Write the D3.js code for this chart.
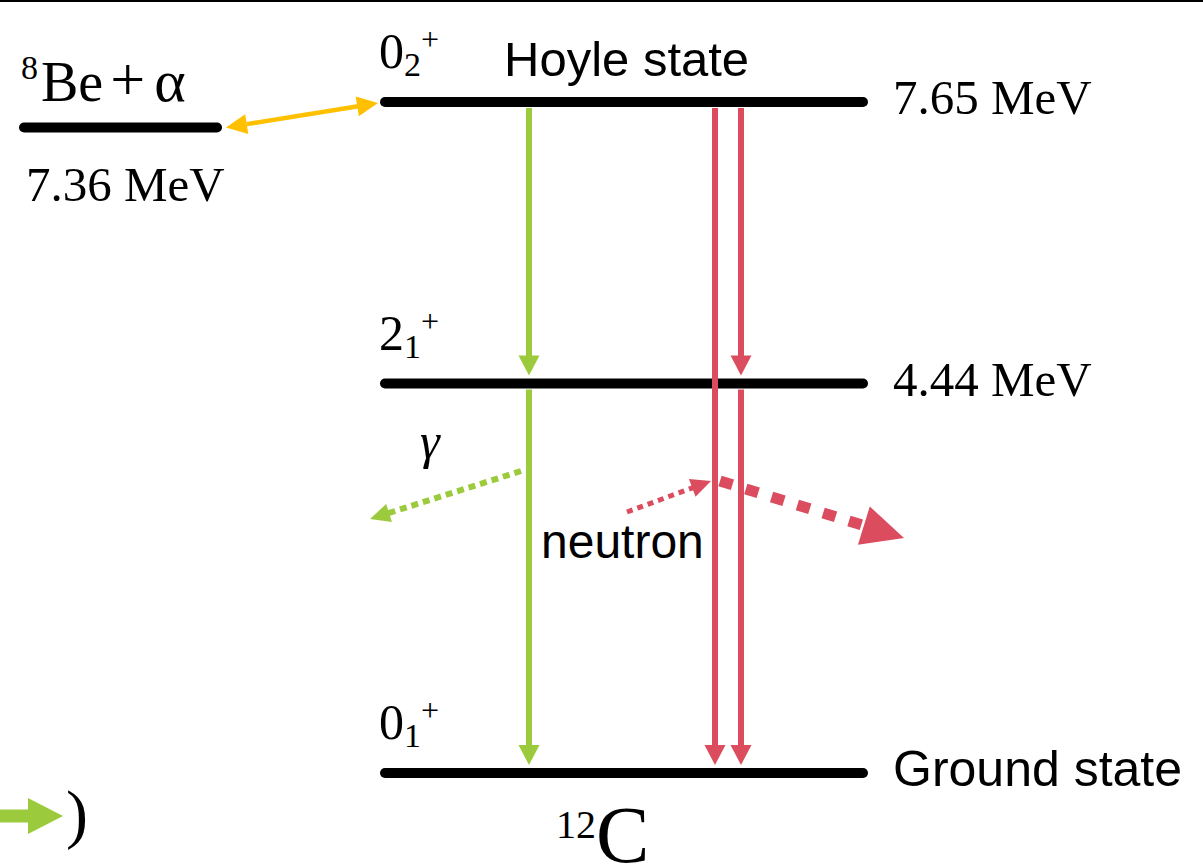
<!DOCTYPE html>
<html>
<head>
<meta charset="utf-8">
<script src="https://cdn.jsdelivr.net/npm/d3@7"></script>
<style>
  html, body { margin: 0; padding: 0; background: #fff; }
  svg { display: block; }
  .serif { font-family: "Liberation Serif", "Times New Roman", serif; }
  .sans { font-family: "Liberation Sans", Arial, sans-serif; }
</style>
</head>
<body>
<div id="chart"></div>
<script>
(function () {

    // level energies of 12C (MeV) and the 8Be + alpha threshold
    var levelKeys = ['hoyle', 'first', 'ground'];
    var levelEnergies = [7.65, 4.44, 0.0];
    var levelEnergyLabels = ['7.65 MeV', '4.44 MeV', 'Ground state'];
    var levelSpins = ['0', '2', '0'];
    var levelSpinIdx = ['2', '1', '1'];
    var thresholdEnergy = 7.36;
    var thresholdLabel = '7.36 MeV';

    // decay paths between levels
    var transFrom = [7.65, 4.44, 7.65, 7.65, 4.44];
    var transTo = [4.44, 0.0, 0.0, 4.44, 0.0];
    var transKind = ['gamma', 'gamma', 'neutron', 'neutron', 'neutron'];
    var transColumn = [0, 0, 1, 2, 2];

    var width = 1203;
    var height = 867;
    var colors = {gamma: '#9bcb3c', neutron: '#dc4c5f', alpha: '#ffc000'};

    var svg = d3.select('#chart').append('svg')
        .attr('width', width)
        .attr('height', height);

    /**
     * energy -> vertical position
     */
    var y = d3.scaleLinear().domain([0, 7.65]).range([773, 102]);
    var columnX = [529, 715, 741];

    /**
     * draws a straight arrow ending in a filled triangle
     */
    function arrow(x1, y1, x2, y2, o) {
        var dx = x2 - x1, dy = y2 - y1;
        var len = Math.sqrt(dx * dx + dy * dy);
        var ux = dx / len, uy = dy / len;
        var px = -uy, py = ux;
        var hl = o.headLen, hw = o.headW / 2;
        var sx = x1, sy = y1;
        if (o.both) {
            sx = x1 + ux * hl;
            sy = y1 + uy * hl;
            svg.append('polygon')
                .attr('points', [[x1, y1],
                    [x1 + ux * hl + px * hw, y1 + uy * hl + py * hw],
                    [x1 + ux * hl - px * hw, y1 + uy * hl - py * hw]].join(' '))
                .attr('fill', o.color);
        }
        var bx = x2 - ux * hl, by = y2 - uy * hl;
        svg.append('line')
            .attr('x1', sx).attr('y1', sy)
            .attr('x2', bx + ux * 1).attr('y2', by + uy * 1)
            .attr('stroke', o.color)
            .attr('stroke-width', o.width)
            .attr('stroke-dasharray', o.dash || null);
        svg.append('polygon')
            .attr('points', [[x2, y2],
                [bx + px * hw, by + py * hw],
                [bx - px * hw, by - py * hw]].join(' '))
            .attr('fill', o.color);
    }

    // top frame line
    svg.append('rect')
        .attr('x', 0).attr('y', 0)
        .attr('width', width).attr('height', 2)
        .attr('fill', '#000');

    /**
     * vertical decay arrows
     */
    transFrom.forEach(function (from, i) {
        var x = columnX[transColumn[i]];
        var y1 = y(from) + 6;
        var y2 = y(transTo[i]) - 8;
        arrow(x, y1, x, y2, {
            color: colors[transKind[i]], width: 6, headLen: 20, headW: 21
        });
    });

    /**
     * energy levels
     */
    svg.selectAll('.level')
        .data(levelEnergies)
        .enter().append('line')
        .attr('class', 'level')
        .attr('x1', 385).attr('x2', 863)
        .attr('y1', function (d) { return y(d); })
        .attr('y2', function (d) { return y(d); })
        .attr('stroke', '#000')
        .attr('stroke-width', 10)
        .attr('stroke-linecap', 'round');

    // red direct line passes over the 4.44 level
    svg.append('line')
        .attr('x1', columnX[1]).attr('x2', columnX[1])
        .attr('y1', y(4.44) - 6).attr('y2', y(4.44) + 6)
        .attr('stroke', colors.neutron).attr('stroke-width', 6);

    svg.append('line')
        .attr('x1', 24).attr('x2', 217)
        .attr('y1', y(thresholdEnergy)).attr('y2', y(thresholdEnergy))
        .attr('stroke', '#000')
        .attr('stroke-width', 10)
        .attr('stroke-linecap', 'round');

    // alpha exchange between threshold and Hoyle state
    arrow(226, y(thresholdEnergy), 378, y(7.65) + 1, {
        color: colors.alpha, width: 4.5, headLen: 21, headW: 20, both: true
    });

    /**
     * level labels
     */
    svg.selectAll('.elabel')
        .data(levelEnergies)
        .enter().append('text')
        .attr('class', function (d, i) { return 'elabel ' + (i === 2 ? 'sans' : 'serif'); })
        .attr('x', 893)
        .attr('y', function (d, i) { return y(d) + (i === 2 ? 13 : 12); })
        .attr('font-size', function (d, i) { return i === 2 ? 50 : 49; })
        .text(function (d, i) { return levelEnergyLabels[i]; });

    var spin = svg.selectAll('.spin')
        .data(levelEnergies)
        .enter().append('text')
        .attr('class', 'spin serif')
        .attr('x', 379)
        .attr('y', function (d) { return y(d) - 34; })
        .attr('font-size', 50);
    spin.append('tspan').text(function (d, i) { return levelSpins[i]; });
    spin.append('tspan')
        .attr('font-size', 34).attr('dy', 8)
        .text(function (d, i) { return levelSpinIdx[i]; });
    spin.append('tspan')
        .attr('font-size', 32).attr('dy', -26)
        .text('+');

    svg.append('text')
        .attr('class', 'sans')
        .attr('x', 504).attr('y', 76)
        .attr('font-size', 49)
        .text('Hoyle state');

    svg.append('text')
        .attr('class', 'serif')
        .attr('x', 26).attr('y', 201)
        .attr('font-size', 49)
        .text(thresholdLabel);

    var be = svg.append('text')
        .attr('class', 'serif')
        .attr('x', 21).attr('y', 101)
        .attr('font-size', 56);
    be.append('tspan').attr('font-size', 34).attr('dy', -22).text('8');
    be.append('tspan').attr('dy', 22).attr('dx', 3).text('Be');
    be.append('tspan').attr('dx', 7).attr('font-size', 62).attr('dy', -1).text('+');
    be.append('tspan').attr('dx', 9).attr('font-size', 60).attr('dy', 1).text('α');

    var c12 = svg.append('text')
        .attr('class', 'serif')
        .attr('x', 556).attr('y', 862)
        .attr('font-size', 80);
    c12.append('tspan').attr('font-size', 40).attr('dy', -24).text('12');
    c12.append('tspan').attr('dy', 24).text('C');

    /**
     * emitted particles
     */
    arrow(521, 471, 370, 519, {
        color: colors.gamma, width: 6, headLen: 20, headW: 19, dash: '7 5'
    });
    svg.append('text')
        .attr('class', 'serif')
        .attr('x', 420).attr('y', 458)
        .attr('font-size', 50)
        .attr('font-style', 'italic')
        .text('γ');

    arrow(627, 512, 711, 481, {
        color: colors.neutron, width: 5, headLen: 20, headW: 19, dash: '6 5'
    });
    arrow(720, 481, 904, 538, {
        color: colors.neutron, width: 11, headLen: 42, headW: 40, dash: '13 14'
    });
    svg.append('text')
        .attr('class', 'sans')
        .attr('x', 541).attr('y', 558)
        .attr('font-size', 48)
        .text('neutron');

    // cut-off legend at the lower left edge
    arrow(0, 816, 63, 816, {
        color: colors.gamma, width: 13, headLen: 35, headW: 36
    });
    svg.append('text')
        .attr('class', 'serif')
        .attr('x', 66).attr('y', 836)
        .attr('font-size', 66)
        .text(')');
})();
</script>
</body>
</html>
